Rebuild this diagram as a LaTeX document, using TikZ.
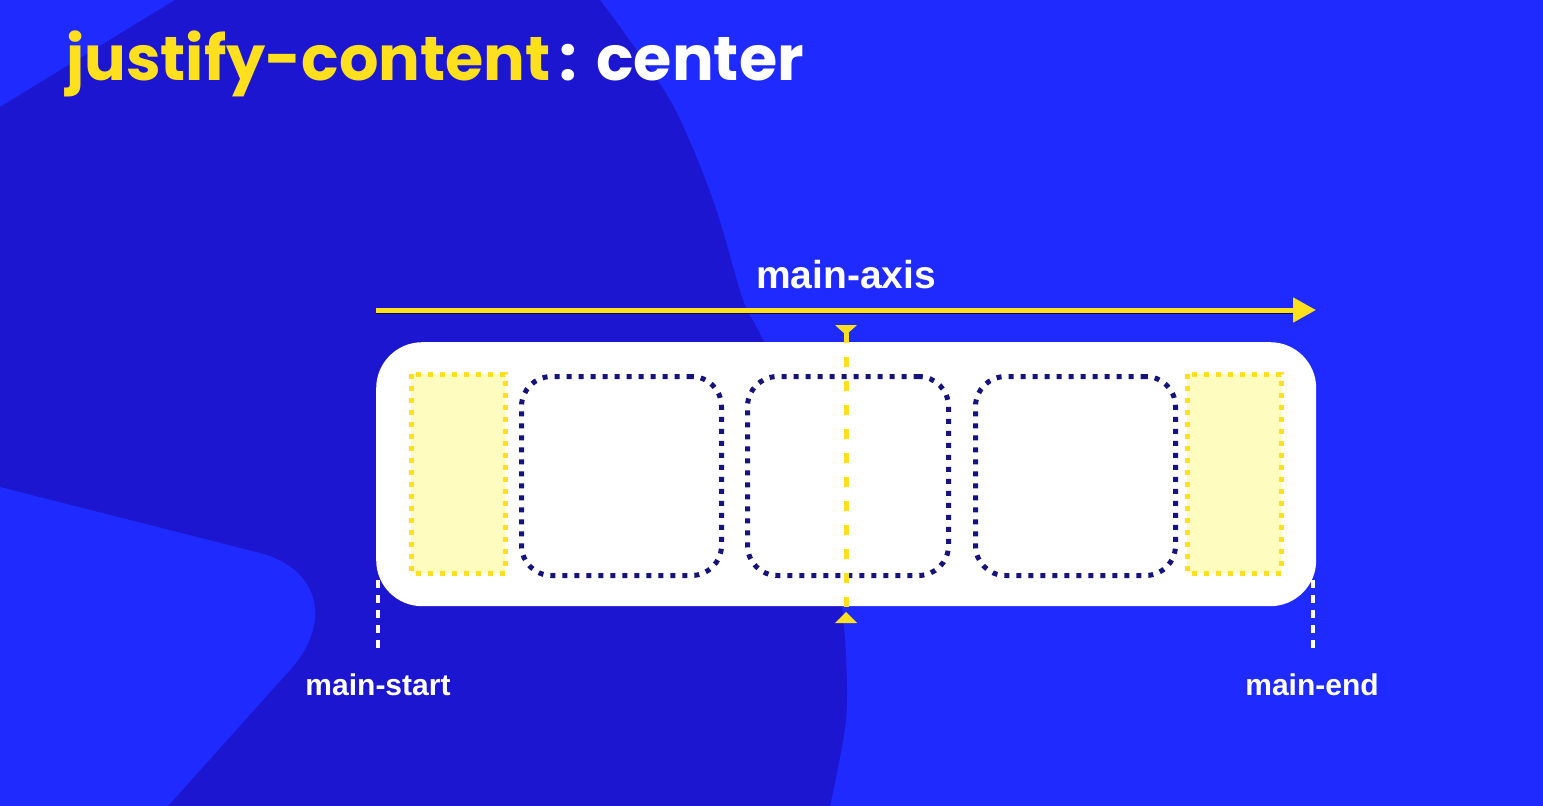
\documentclass[tikz,border=0pt]{standalone}
\usepackage{fontspec}
\setmainfont{Liberation Sans}
\newfontfamily\titlefont{Poppins}
\usetikzlibrary{arrows.meta}
\definecolor{brightblue}{HTML}{1E2AFE}
\definecolor{darkblue}{HTML}{1C16D0}
\definecolor{ylw}{HTML}{FFE01E}
\definecolor{lightylw}{HTML}{FFFCC0}
\definecolor{navy}{HTML}{16137A}
\begin{document}
\begin{tikzpicture}[x=1pt,y=-1pt,
  gapbox/.style={draw=ylw,fill=lightylw,line width=5pt,dash pattern=on 5pt off 7pt},
  itembox/.style={draw=navy,line width=5pt,dash pattern=on 5pt off 7pt,rounded corners=30pt},
  lbl/.style={text=white,font=\bfseries\fontsize{30}{30}\selectfont,inner sep=0pt},
  edgeline/.style={draw=white,line width=4pt,dash pattern=on 8pt off 7pt},
  tip/.style={fill=ylw}
]
\useasboundingbox (0,0) rectangle (1543,806);
% background
\fill[brightblue] (0,0) rectangle (1543,806);
\fill[darkblue] (175,0) --
  plot[smooth] coordinates {(600,0) (670,100) (713,200) (743,300) (765,345) (805,460) (835,560) (845,640) (846,720) (830,806)}
  -- (0,806) -- (0,107) -- cycle;
\fill[brightblue] (0,487) -- (260,553) .. controls (318,568) and (334,621) .. (290,670) -- (168,806) -- (0,806) -- cycle;

% title
\node[anchor=base west, inner sep=0pt, font=\titlefont\bfseries\fontsize{62}{62}\selectfont] (title) at (66,80)
  {\textcolor{ylw}{justify-content}\kern9pt\textcolor{white}{:\hspace{19pt}center}};

% main axis
\coordinate (axS) at (376,310);
\coordinate (axE) at (1316,310);
\draw[line width=2pt, black!60!darkblue] (376,313) -- (1295,313);
\draw[ylw, line width=5pt, -{Triangle[length=23pt,width=24pt]}] (axS) -- (axE);
\node[lbl, font=\bfseries\fontsize{39}{39}\selectfont, anchor=base] (axis) at (846,288) {main-axis};

% container
\node[fill=white, rounded corners=46pt, minimum width=940pt, minimum height=264pt, inner sep=0pt, anchor=north west] (box) at (376,342) {};

% gaps and items
\draw[gapbox] (411,374) rectangle (505,573);
\draw[gapbox] (1187,374) rectangle (1281,573);
\node[itembox, minimum width=200pt, minimum height=199pt, anchor=north west, inner sep=0pt] (i1) at (519,374) {};
\node[itembox, minimum width=201pt, minimum height=199pt, anchor=north west, inner sep=0pt] (i2) at (745,374) {};
\node[itembox, minimum width=200pt, minimum height=199pt, anchor=north west, inner sep=0pt] (i3) at (973,374) {};

% center line
\coordinate (cT) at (846,333);
\coordinate (cB) at (846,612);
\draw[ylw, line width=5pt, dash pattern=on 10pt off 14pt] (cT) -- (cB);
\fill[tip] (835,325) -- (857,325) -- (846,335) -- cycle;
\fill[tip] (835,623) -- (857,623) -- (846,612) -- cycle;

% start / end markers
\coordinate (sT) at (378,580);
\coordinate (sB) at (378,652);
\coordinate (eT) at (1313,580);
\coordinate (eB) at (1313,652);
\draw[edgeline] (sT) -- (sB);
\draw[edgeline] (eT) -- (eB);
\node[lbl, anchor=base] (mstart) at (378,695) {main-start};
\node[lbl, anchor=base] (mend) at (1312,695) {main-end};
\end{tikzpicture}
\end{document}
